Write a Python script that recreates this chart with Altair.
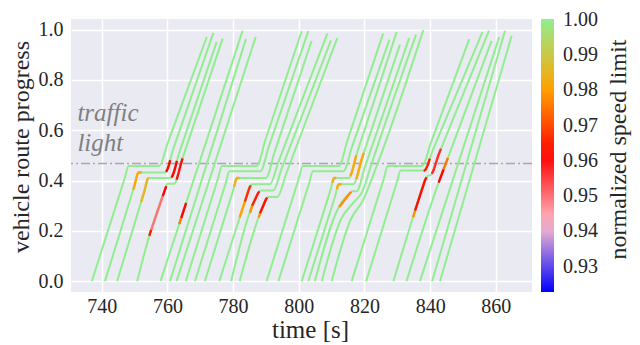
import altair as alt
import pandas as pd

# ---- vehicle trajectories: key points (time [s], route progress)
TRAJ_T = [
    [737.0, 747.0, 748.2, 757.5, 760.1, 772.0],
    [741.0, 750.0, 751.2, 759.3, 761.9, 774.0],
    [744.7, 753.0, 754.2, 761.0, 763.6, 775.0],
    [750.8, 754.7, 759.3, 760.0, 762.0, 764.6, 776.8],
    [757.9, 782.9],
    [760.8, 783.9],
    [762.8, 786.9],
    [765.6, 775.4, 776.6, 787.2, 789.8, 800.9],
    [768.4, 777.7, 778.9, 788.3, 790.9, 802.9],
    [771.4, 780.0, 781.2, 790.0, 792.6, 803.9],
    [775.8, 782.6, 785.0, 785.7, 791.2, 793.8, 808.7],
    [779.4, 785.8, 787.6, 788.4, 792.2, 794.8, 809.8],
    [782.0, 788.2, 790.0, 790.6, 793.5, 796.1, 811.7],
    [790.2, 800.0, 801.2, 812.2, 814.8, 825.7],
    [793.8, 803.1, 804.3, 813.6, 816.2, 827.6],
    [800.9, 809.6, 810.8, 815.2, 817.8, 829.8],
    [802.9, 811.0, 812.2, 816.6, 819.2, 830.8],
    [804.9, 812.0, 815.6, 816.4, 817.6, 820.2, 833.6],
    [807.0, 813.0, 816.5, 819.5, 822.0, 835.7],
    [810.0, 816.0, 819.5, 823.5, 837.9],
    [816.1, 825.9, 827.1, 837.6, 840.2, 851.9],
    [820.5, 829.8, 831.0, 838.2, 840.8, 855.9],
    [828.8, 835.4, 838.4, 839.4, 840.0, 842.6, 857.9],
    [832.8, 842.8, 845.4, 858.7],
    [836.9, 861.0],
    [840.6, 862.8],
    [843.0, 864.8],
]
TRAJ_P = [
    [0.0, 0.409, 0.458, 0.458, 0.550, 0.971],
    [0.0, 0.381, 0.432, 0.432, 0.530, 0.987],
    [0.0, 0.358, 0.410, 0.410, 0.510, 0.951],
    [0.0, 0.190, 0.365, 0.387, 0.387, 0.488, 0.964],
    [0.0, 0.996],
    [0.0, 0.962],
    [0.0, 0.971],
    [0.0, 0.408, 0.458, 0.458, 0.560, 0.994],
    [0.0, 0.387, 0.437, 0.437, 0.536, 0.994],
    [0.0, 0.360, 0.410, 0.410, 0.512, 0.955],
    [0.0, 0.277, 0.372, 0.385, 0.385, 0.474, 0.985],
    [0.0, 0.300, 0.350, 0.360, 0.360, 0.448, 0.957],
    [0.0, 0.270, 0.325, 0.335, 0.335, 0.425, 0.966],
    [0.0, 0.408, 0.458, 0.458, 0.559, 0.985],
    [0.0, 0.387, 0.437, 0.437, 0.534, 0.960],
    [0.0, 0.360, 0.410, 0.410, 0.513, 0.990],
    [0.0, 0.335, 0.385, 0.385, 0.487, 0.940],
    [0.0, 0.290, 0.350, 0.357, 0.357, 0.456, 0.966],
    [0.0, 0.250, 0.310, 0.360, 0.460, 0.980],
    [0.0, 0.250, 0.320, 0.450, 0.998],
    [0.0, 0.408, 0.458, 0.458, 0.550, 0.962],
    [0.0, 0.390, 0.440, 0.440, 0.521, 0.990],
    [0.0, 0.280, 0.400, 0.420, 0.420, 0.504, 0.996],
    [0.0, 0.400, 0.490, 0.955],
    [0.0, 0.970],
    [0.0, 0.995],
    [0.0, 0.975],
]

# ---- stretches where the speed limit drops below 1 (time, progress, normalized speed limit)
PATCH_T = [
    [749.6, 750.0, 750.6, 750.9, 751.2, 752.2],
    [752.0, 753.0, 753.6, 753.9, 754.2],
    [759.6, 760.08, 760.47, 760.86],
    [761.3, 761.9, 762.4, 762.9],
    [762.8, 763.4, 764.0, 764.6],
    [754.5, 754.7, 755.1],
    [755.1, 758.6],
    [758.6, 759.3, 759.65],
    [763.6, 764.2],
    [764.2, 765.7],
    [780.3, 780.6, 780.9, 781.2, 782.0],
    [782.0, 782.6, 783.6],
    [783.6, 785.0, 785.4],
    [785.2, 785.8],
    [785.8, 787.6, 788.0],
    [787.8, 788.2],
    [788.2, 790.0, 790.4],
    [810.2, 810.5, 810.8, 811.4],
    [811.6, 811.9, 812.2, 813.0],
    [812.3, 815.6, 816.0],
    [815.7, 816.3, 816.9, 817.5],
    [817.5, 818.1, 818.7, 819.2, 819.8],
    [838.0, 838.2, 838.7, 839.3, 839.9],
    [834.8, 835.4],
    [835.4, 838.4, 838.9],
    [840.5, 841.1, 841.7, 842.3, 842.6, 843.3],
    [842.6, 842.8, 844.1],
    [844.1, 845.4],
]
PATCH_P = [
    [0.364, 0.381, 0.413, 0.426, 0.432, 0.432],
    [0.315, 0.358, 0.390, 0.404, 0.410],
    [0.4345, 0.447, 0.4625, 0.481],
    [0.4125, 0.430, 0.452, 0.478],
    [0.403, 0.430, 0.4605, 0.488],
    [0.180, 0.190, 0.205],
    [0.205, 0.338],
    [0.338, 0.365, 0.378],
    [0.227, 0.251],
    [0.251, 0.311],
    [0.375, 0.391, 0.405, 0.410, 0.410],
    [0.253, 0.277, 0.316],
    [0.316, 0.372, 0.381],
    [0.272, 0.300],
    [0.300, 0.350, 0.357],
    [0.253, 0.270],
    [0.270, 0.325, 0.332],
    [0.391, 0.405, 0.410, 0.410],
    [0.366, 0.380, 0.385, 0.385],
    [0.295, 0.350, 0.355],
    [0.417, 0.439, 0.469, 0.500],
    [0.405, 0.433, 0.464, 0.487, 0.510],
    [0.440, 0.440, 0.445, 0.463, 0.487],
    [0.254, 0.280],
    [0.280, 0.400, 0.413],
    [0.4256, 0.4437, 0.468, 0.493, 0.504, 0.5265],
    [0.392, 0.400, 0.445],
    [0.445, 0.490],
]
PATCH_S = [
    0.982, 0.985, 0.962, 0.962, 0.960, 0.965, 0.950, 0.962, 0.976, 0.962,
    0.984, 0.980, 0.967, 0.978, 0.965, 0.978, 0.963, 0.983, 0.982, 0.978,
    0.982, 0.982, 0.965, 0.978, 0.963, 0.957, 0.962, 0.975,
]

LIGHT_POS = [0.468]
LABEL_TEXT = ["traffic", "light"]
LABEL_T = [732.6, 732.6]
LABEL_P = [0.637, 0.519]
LEGEND_TITLE = ["normalized speed limit"]

X_TICKS = [740, 760, 780, 800, 820, 840, 860]
Y_TICKS = [0.0, 0.2, 0.4, 0.6, 0.8, 1.0]
LEGEND_TICKS = [0.93, 0.94, 0.95, 0.96, 0.97, 0.98, 0.99, 1.00]
CMAP_STOPS = [0.9228, 0.9421, 0.9614, 0.9807, 1.0002]
CMAP_COLORS = ["#0000ff", "#ffc0cb", "#ff0000", "#ffa500", "#90ee90"]

# ---- tables
rows = []
for i, (ts, ps) in enumerate(zip(TRAJ_T, TRAJ_P)):
    for t, p in zip(ts, ps):
        rows.append({"vehicle": i, "t": t, "p": p})
traj = pd.DataFrame(rows)

prow = []
for i, (ts, ps, s) in enumerate(zip(PATCH_T, PATCH_P, PATCH_S)):
    for k, (t, p) in enumerate(zip(ts, ps)):
        prow.append({"patch": i, "k": k, "t": t, "p": p, "s": s})
patches = pd.DataFrame(prow)

light = pd.DataFrame({"p": LIGHT_POS})
labels = pd.DataFrame({"t": LABEL_T, "p": LABEL_P, "label": LABEL_TEXT})
ltitle = pd.DataFrame({"label": LEGEND_TITLE})

FONT = "Liberation Serif"
INK = "#262626"
TOP = 11
H = 273

xscale = alt.Scale(domain=[730.65, 871.0], nice=False, zero=False)
yscale = alt.Scale(domain=[-0.043, 1.042], nice=False, zero=False)

x_axis = alt.Axis(values=X_TICKS, format="d", title="time [s]", labelPadding=4,
                  titleX=239, titleY=45, titleBaseline="alphabetic", titleAnchor="middle")
y_axis = alt.Axis(values=Y_TICKS, format=".1f", title="vehicle route progress", labelPadding=8,
                  titleX=-43, titleY=127.5, titleBaseline="alphabetic", titleAngle=270,
                  titleFontSize=24)

X = alt.X("t:Q", scale=xscale, axis=x_axis)
Y = alt.Y("p:Q", scale=yscale, axis=y_axis)

rule = alt.Chart(light).mark_rule(color="#a8a8a8", strokeWidth=1.6,
                                  strokeDash=[9, 3, 2, 3]).encode(y=Y)

lines = alt.Chart(traj).mark_line(color="#90ee90", strokeWidth=2,
                                  interpolate="monotone").encode(
    x=X, y=Y, detail="vehicle:N")

color_scale = alt.Scale(domain=CMAP_STOPS, range=CMAP_COLORS, interpolate="rgb")
legend = alt.Legend(
    title=None, orient="right", direction="vertical",
    values=LEGEND_TICKS, format=".2f", gradientLength=H, gradientThickness=13,
    gradientStrokeWidth=0, offset=9, padding=0, labelOffset=9,
    labelFont=FONT, labelFontSize=20, labelColor=INK, labelOverlap=False,
)

colored = alt.Chart(patches).mark_line(strokeWidth=2.4).encode(
    x=X, y=Y,
    color=alt.Color("s:Q", scale=color_scale, legend=legend),
    detail="patch:N", order="k:Q")

text = alt.Chart(labels).mark_text(align="left", baseline="alphabetic", font=FONT,
                                   fontSize=25, fontStyle="italic",
                                   color="#7f7f7f").encode(x=X, y=Y, text="label:N")

legend_title = alt.Chart(ltitle).mark_text(
    angle=270, align="center", baseline="alphabetic", font=FONT, fontSize=24,
    color=INK).encode(x=alt.value(555), y=alt.value(130.5), text="label:N")

chart = alt.layer(rule, lines, colored, text, legend_title).properties(
    width=461, height=H,
    padding={"left": 63, "top": TOP, "right": 100, "bottom": 52},
    autosize=alt.AutoSizeParams(type="none"),
).configure_view(fill="#EAEAF2", stroke=None).configure_axis(
    domain=False, ticks=False, grid=True, gridColor="white", gridWidth=1.5,
    labelFont=FONT, labelFontSize=20, labelColor=INK,
    titleFont=FONT, titleFontSize=25, titleFontWeight="normal", titleColor=INK,
)

chart.save("out.html", embed_options={"renderer": "svg", "actions": False})
